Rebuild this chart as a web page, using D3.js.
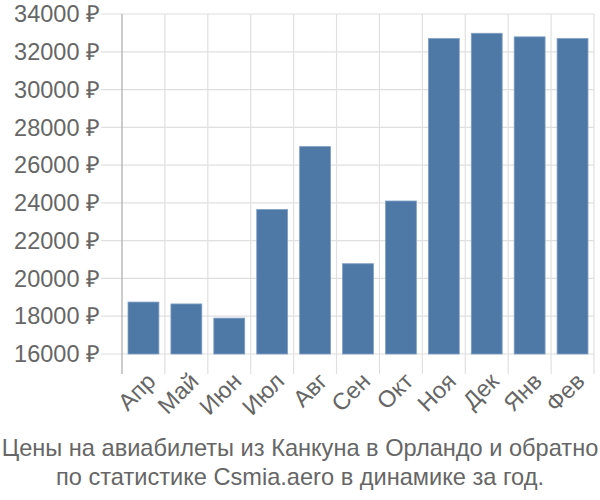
<!DOCTYPE html>
<html><head><meta charset="utf-8">
<script src="https://cdn.jsdelivr.net/npm/d3@7"></script>
<style>body{margin:0;background:#fff}svg{display:block}</style>
</head><body>
<svg id="c" width="600" height="500"></svg>
<script>
const months = ["Апр","Май","Июн","Июл","Авг","Сен","Окт","Ноя","Дек","Янв","Фев"];
const prices = [18750, 18650, 17900, 23650, 26980, 20780, 24100, 32700, 32980, 32790, 32700];
const yTicks = [16000,18000,20000,22000,24000,26000,28000,30000,32000,34000];
const titleLines = ["Цены на авиабилеты из Канкуна в Орландо и обратно","по статистике Csmia.aero в динамике за год."];

const svg = d3.select("#c");
const L=122, R=594, T=14, B=354;
const x = d3.scaleBand().domain(months).range([L,R]).paddingInner(0.28).paddingOuter(0.14);
const y = d3.scaleLinear().domain([16000,34000]).range([B,T]);
const step = x.step();
const font = "'Liberation Sans', Arial, sans-serif";

// horizontal grid
svg.append("g").selectAll("line").data(yTicks).join("line")
  .attr("x1",L-21).attr("x2",R).attr("y1",d=>y(d)).attr("y2",d=>y(d))
  .attr("stroke","#e0e0e0").attr("stroke-width",1.2);
// vertical grid
const edges = months.map(m=>x(m)-step*x.paddingInner()/2).concat([R]);
svg.append("g").selectAll("line").data(edges).join("line")
  .attr("x1",d=>d).attr("x2",d=>d).attr("y1",T).attr("y2",B+20)
  .attr("stroke",(d,i)=>i===0?"#aaaaaa":"#e0e0e0").attr("stroke-width",1.2);

// bars
svg.append("g").selectAll("rect").data(prices).join("rect")
  .attr("x",(d,i)=>x(months[i])).attr("width",x.bandwidth())
  .attr("y",d=>y(d)).attr("height",d=>B-y(d))
  .attr("fill","#4e79a7").attr("stroke","#7f9fc4").attr("stroke-width",0.8);

// y labels
svg.append("g").selectAll("text").data(yTicks).join("text")
  .attr("x",L-22).attr("y",d=>y(d)).attr("dy","0.35em").attr("text-anchor","end")
  .attr("font-family",font).attr("font-size",23.5).attr("fill","#666")
  .text(d=>d+" ₽");

// x labels
svg.append("g").selectAll("text").data(months).join("text")
  .attr("transform",d=>`translate(${x(d)+x.bandwidth()/2+2},${B+17}) rotate(-45)`)
  .attr("text-anchor","end").attr("dy","0.7em")
  .attr("font-family",font).attr("font-size",23.5).attr("fill","#666")
  .text(d=>d);

// title
svg.append("g").selectAll("text").data(titleLines).join("text")
  .attr("x",300).attr("y",(d,i)=>456+i*29).attr("text-anchor","middle")
  .attr("font-family",font).attr("font-size",23.6).attr("fill","#666")
  .text(d=>d);
</script>
</body></html>
